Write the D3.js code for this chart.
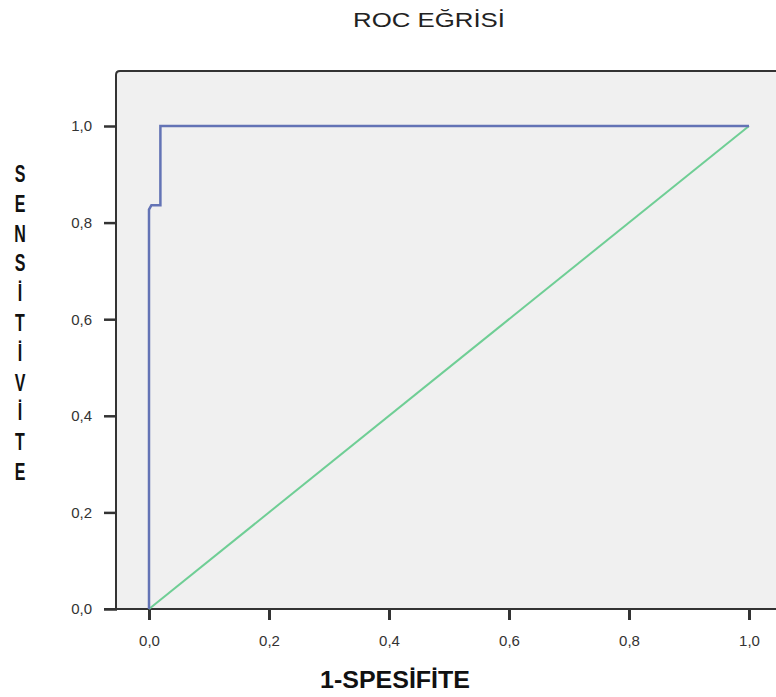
<!DOCTYPE html>
<meta charset="utf-8">
<style>

body {
  margin: 0;
  background: #fff;
}

svg {
  display: block;
  font-family: "Liberation Sans", Arial, sans-serif;
}

.frame {
  fill: none;
  stroke: #333;
  stroke-width: 2;
}

.tick text {
  fill: #333;
  font-size: 15px;
}

</style>
<svg width="776" height="697"></svg>
<script src="https://d3js.org/d3.v7.min.js"></script>
<script>

// ROC curve points (1 - specificity, sensitivity)
var rocFpr = [0, 0, 0.004, 0.019, 0.019, 1];
var rocTpr = [0, 0.827, 0.836, 0.836, 1, 1];

// reference diagonal
var refFpr = [0, 1];
var refTpr = [0, 1];

var tickValues = [0, 0.2, 0.4, 0.6, 0.8, 1.0];

var svg = d3.select("svg"),
    width = +svg.attr("width"),
    height = +svg.attr("height");

var x = d3.scaleLinear().domain([0, 1]).range([149, 749]),
    y = d3.scaleLinear().domain([0, 1]).range([609, 126]);

var fmt = function(d) { return d3.format(".1f")(d).replace(".", ","); };

// plot background
svg.append("rect")
    .attr("x", 117)
    .attr("y", 71)
    .attr("width", width - 117)
    .attr("height", 609 - 71)
    .attr("fill", "#f0f0f0");

// frame: top and left
svg.append("path")
    .attr("class", "frame")
    .attr("d", "M" + width + ",71H120Q116,71 116,75V609");

// x axis
var xAxis = svg.append("g")
    .attr("transform", "translate(0,609)")
    .call(d3.axisBottom(x).tickValues(tickValues).tickFormat(fmt).tickSize(11).tickPadding(15));
xAxis.select(".domain").remove();
xAxis.selectAll(".tick line").attr("stroke", "#333").attr("stroke-width", 3);
svg.append("line")
    .attr("class", "frame")
    .attr("x1", 104).attr("x2", width)
    .attr("y1", 609).attr("y2", 609);

// y axis
var yAxis = svg.append("g")
    .attr("transform", "translate(117,0)")
    .call(d3.axisLeft(y).tickValues(tickValues).tickFormat(fmt).tickSize(13).tickPadding(12));
yAxis.select(".domain").remove();
yAxis.selectAll(".tick line").attr("stroke", "#333").attr("stroke-width", 2.5);

var line = d3.line()
    .x(function(d) { return x(d[0]); })
    .y(function(d) { return y(d[1]); });

svg.append("path")
    .datum(d3.zip(refFpr, refTpr))
    .attr("fill", "none")
    .attr("stroke", "#6fce95")
    .attr("stroke-width", 2)
    .attr("d", line);

svg.append("path")
    .datum(d3.zip(rocFpr, rocTpr))
    .attr("fill", "none")
    .attr("stroke", "#6373b5")
    .attr("stroke-width", 2.5)
    .attr("stroke-linejoin", "miter")
    .attr("d", line);

// title
svg.append("text")
    .attr("x", 429)
    .attr("y", 27)
    .attr("text-anchor", "middle")
    .attr("font-size", 21)
    .attr("textLength", 152)
    .attr("lengthAdjust", "spacingAndGlyphs")
    .attr("fill", "#222")
    .text("ROC EĞRİSİ");

// x label
svg.append("text")
    .attr("x", 395)
    .attr("y", 688)
    .attr("text-anchor", "middle")
    .attr("font-size", 23)
    .attr("font-weight", "bold")
    .attr("textLength", 150)
    .attr("lengthAdjust", "spacingAndGlyphs")
    .attr("fill", "#111")
    .text("1-SPESİFİTE");

// y label, stacked letters (stretched tall like the original)
var yLetters = "SENSİTİVİTE".split("");
svg.append("g")
  .selectAll("text")
  .data(yLetters)
  .enter().append("text")
    .attr("transform", function(d, i) { return "translate(20," + (182 + i * 29.8) + ") scale(1,1.45)"; })
    .attr("text-anchor", "middle")
    .attr("font-size", 16)
    .attr("font-weight", "bold")
    .attr("fill", "#111")
    .text(function(d) { return d; });

</script>
